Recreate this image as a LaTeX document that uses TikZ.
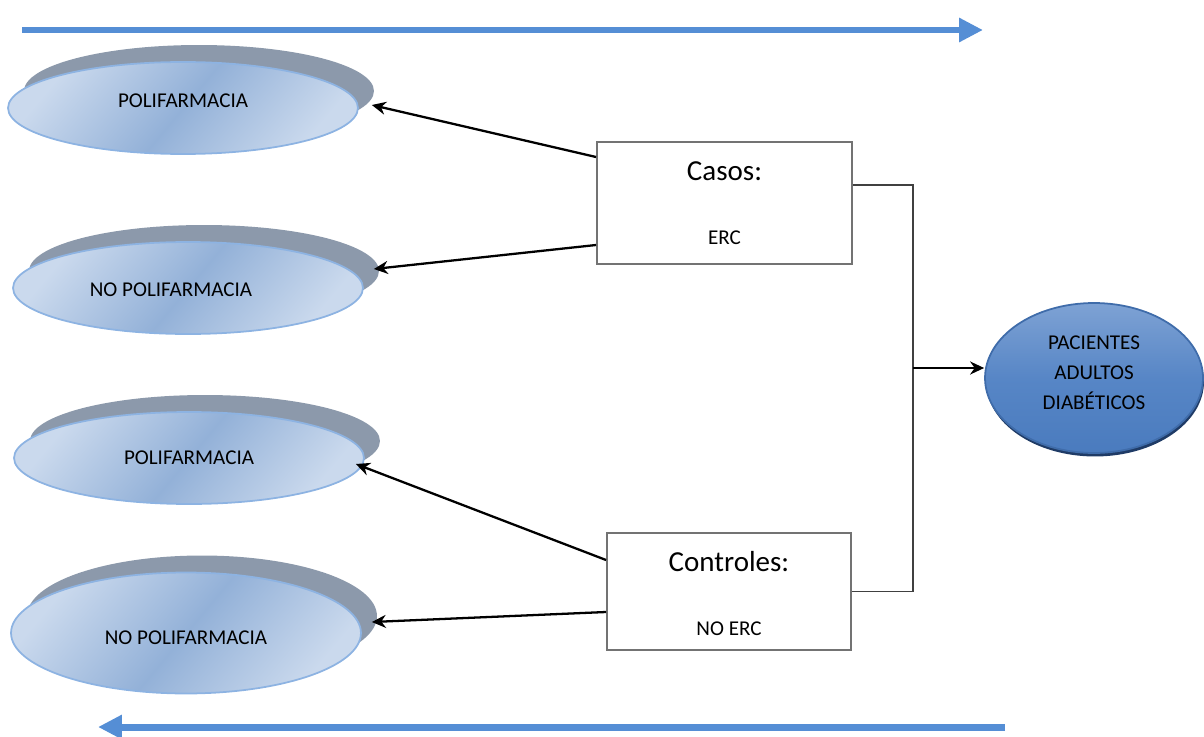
\documentclass[tikz,border=0pt]{standalone}
\usepackage{fontspec}
\setmainfont{Carlito}
\usetikzlibrary{arrows.meta,shapes.geometric,shadows}
\definecolor{flecha}{HTML}{558ED5}
\definecolor{ellClaro}{HTML}{CAD9ED}
\definecolor{ellOscuro}{HTML}{93B1D8}
\definecolor{ellBorde}{HTML}{8DB3E2}
\definecolor{sombra}{HTML}{8C99AB}
\definecolor{pacArriba}{HTML}{7EA2D4}
\definecolor{pacMedio}{HTML}{5786C6}
\definecolor{pacAbajo}{HTML}{4A7BBE}
\definecolor{pacBorde}{HTML}{3F6CAA}
\definecolor{pacSombra}{HTML}{1F3B66}

\begin{document}
\begin{tikzpicture}[
  x=0.02cm, y=-0.02cm, font=\fontsize{12}{14}\selectfont,
  grupo/.style={ellipse, draw=ellBorde, line width=1pt, inner sep=0pt,
    minimum width=7cm, minimum height=1.84cm,
    top color=ellClaro, bottom color=ellClaro, middle color=ellOscuro, shading angle=50,
    general shadow={fill=sombra, shadow xshift=0.32cm, shadow yshift=0.34cm}},
  caja/.style={rectangle, draw=black!55, line width=1.1pt, inner sep=0pt},
  titulo/.style={font=\fontsize{16.5}{19}\selectfont, inner sep=1pt},
  sub/.style={inner sep=1pt},
  pac/.style={ellipse, draw=pacBorde, line width=1pt, inner sep=0pt, align=center,
    minimum width=4.36cm, minimum height=3cm,
    top color=pacArriba, bottom color=pacAbajo, middle color=pacMedio,
    font=\fontsize{12}{17}\selectfont,
    general shadow={fill=pacSombra, shadow xshift=0.02cm, shadow yshift=-0.07cm}},
  tiempo/.style={draw=flecha, line width=0.14cm, -{Triangle[length=0.48cm,width=0.46cm]}},
  une/.style={draw=black!75, line width=0.8pt},
  va/.style={draw=black, line width=1.3pt, -{Stealth[length=0.28cm,width=0.26cm]}}
]
\useasboundingbox (0,0) rectangle (1204,737);

% flechas de tiempo
\coordinate (tA) at (22,30);
\coordinate (tB) at (983,30);
\coordinate (bA) at (1005,727);
\coordinate (bB) at (98,727);
\draw[tiempo] (tA) -- (tB);
\draw[tiempo] (bA) -- (bB);

% grupos de exposicion
\node[grupo] (e1) at (183,108) {};
\node at ([yshift=0.14cm]e1.center) {POLIFARMACIA};
\node[grupo] (e2) at (188,288) {};
\node at ([xshift=-0.34cm,yshift=-0.04cm]e2.center) {NO POLIFARMACIA};
\node[grupo] (e3) at (189,458) {};
\node at (e3.center) {POLIFARMACIA};
\node[grupo, minimum height=2.42cm] (e4) at (186,633) {};
\node at ([yshift=-0.1cm]e4.center) {NO POLIFARMACIA};

% casos y controles
\node[caja, minimum width=5.1cm, minimum height=2.44cm] (cas) at (724.5,203) {};
\node[titulo] (casT) at ([yshift=-0.6cm]cas.north) {Casos:};
\node[sub] (casS) at ([yshift=0.54cm]cas.south) {ERC};
\node[caja, minimum width=4.88cm, minimum height=2.34cm] (con) at (729,591.5) {};
\node[titulo] (conT) at ([yshift=-0.6cm]con.north) {Controles:};
\node[sub] (conS) at ([yshift=0.44cm]con.south) {NO ERC};

% poblacion
\node[pac] (pac) at (1094,378) {};
\node[align=center, font=\fontsize{12}{17}\selectfont] (pacT) at ([yshift=0.1cm]pac.center) {PACIENTES\\ADULTOS\\DIABÉTICOS};

% uniones
\coordinate (junc) at (913,368);
\draw[une] ([yshift=0.36cm]cas.east) -| (junc) |- (con.east);
\draw[va] (junc) -- (pac.west |- junc);
\draw[va] ([yshift=0.92cm]cas.west) -- ([xshift=0.26cm,yshift=0.06cm]e1.east);
\draw[va] ([yshift=-0.84cm]cas.west) -- ([xshift=0.2cm,yshift=0.38cm]e2.east);
\draw[va] ([yshift=0.63cm]con.west) -- ([xshift=-0.18cm,yshift=-0.12cm]e3.east);
\draw[va] ([yshift=-0.41cm]con.west) -- ([xshift=0.2cm,yshift=0.22cm]e4.east);
\end{tikzpicture}
\end{document}
